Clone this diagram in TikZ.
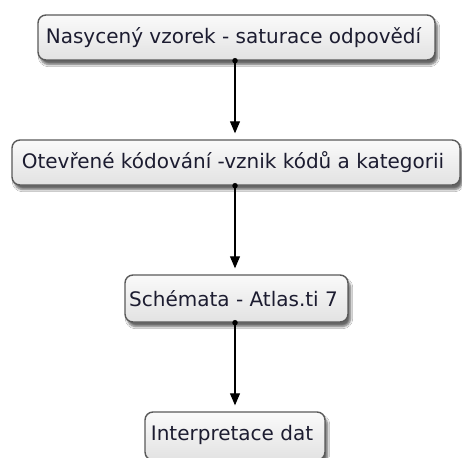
\documentclass[tikz,border=0pt]{standalone}
\usepackage{fontspec}
\setmainfont{DejaVu Sans}
\usetikzlibrary{arrows.meta,shadows.blur}
\definecolor{boxline}{HTML}{5A5A5A}
\definecolor{boxtop}{HTML}{FAFAFA}
\definecolor{boxbottom}{HTML}{E2E2E2}
\definecolor{boxtext}{HTML}{1C1C30}
\newcommand{\padr}[1]{#1\hspace*{6pt}}
\begin{document}
\begin{tikzpicture}[x=1pt,y=1pt,
  stepbox/.style={draw=boxline, line width=1.4pt, rounded corners=8pt,
    top color=boxtop, bottom color=boxbottom,
    blur shadow={shadow xshift=2.5pt, shadow yshift=-4.5pt, shadow blur steps=6, shadow opacity=60},
    text=boxtext, font=\fontsize{20}{23}\selectfont, inner sep=0pt, align=center},
  flow/.style={line width=1.1pt, -{Triangle[length=12pt,width=10pt]}, shorten >=6pt},
  startdot/.style={circle, fill=black, inner sep=0pt, minimum size=5.5pt}]
\useasboundingbox (0,0) rectangle (462,-457);
\fill[white] (0,0) rectangle (462,-457);

\node[stepbox, minimum width=397pt, minimum height=45pt] (n1) at (236.5,-37.5)
  {\padr{Nasycený vzorek - saturace odpovědí}};
\node[stepbox, minimum width=448pt, minimum height=45pt] (n2) at (236,-162.5)
  {\padr{Otevřené kódování -vznik kódů a kategorii}};
\node[stepbox, minimum width=223pt, minimum height=47pt] (n3) at (236.5,-298.5)
  {\padr{Schémata - Atlas.ti 7}};
\node[stepbox, minimum width=180pt, minimum height=48pt] (n4) at (235,-436)
  {\raisebox{6pt}{\padr{Interpretace dat}}};

% connectors, each starting from a small dot on the lower edge
\foreach \a/\b in {n1/n2, n2/n3, n3/n4} {
  \node[startdot] (d-\a) at (\a.south -| 235,0) {};
  \draw[flow] (d-\a.center) -- (\b.north -| 235,0);
}
\end{tikzpicture}
\end{document}
